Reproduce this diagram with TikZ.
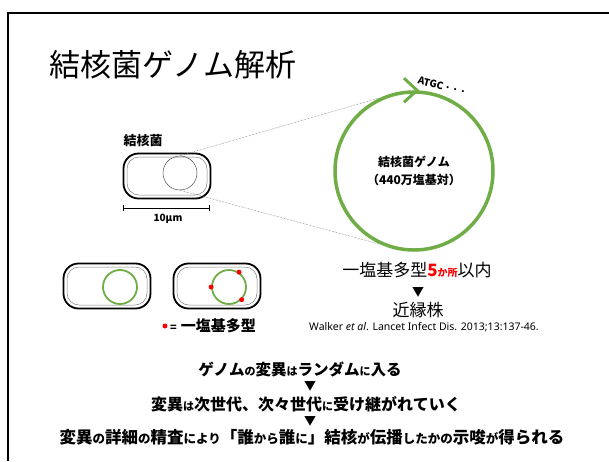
\documentclass[tikz,border=0pt]{standalone}
\usepackage{fontspec}
\setmainfont{Noto Sans CJK JP}
\newfontfamily\latinfont{Noto Sans}
\usetikzlibrary{positioning}

\definecolor{genomegreen}{RGB}{112,173,71}
\definecolor{snpred}{RGB}{255,0,0}

\tikzset{
  cellout/.style={draw, line width=1.8pt, rounded corners=15pt,
    minimum width=87pt, minimum height=45pt, inner sep=0pt},
  cellin/.style={draw=black!50, line width=0.5pt, rounded corners=12pt,
    minimum width=80pt, minimum height=38pt, inner sep=0pt},
  chromo/.style={circle, draw=genomegreen, line width=1.8pt,
    minimum size=34pt, inner sep=0pt},
  snp/.style={circle, fill=snpred, inner sep=0pt, minimum size=5pt},
  zoomline/.style={draw=black!60, densely dotted, line width=0.5pt},
  lead/.style={font=\bfseries\fontsize{16}{18}\selectfont, inner sep=0pt},
  tri/.style={font=\fontsize{12}{12}\selectfont, inner sep=0pt},
}
\newcommand\kana[1]{{\fontsize{11}{12}\selectfont #1}}
\newcommand\kanab[1]{{\fontsize{12.5}{13}\selectfont #1}}

\begin{document}
\begin{tikzpicture}[x=1pt, y=-1pt]
  \useasboundingbox (0,0) rectangle (609,461);
  % slide frame
  \draw[line width=1.3pt] (8,461) -- (8,13) -- (609,13);

  \node[anchor=west, inner sep=0pt, font=\fontsize{31}{31}\selectfont] (title) at (49,65) {結核菌ゲノム解析};

  % bacterium with its chromosome
  \node[cellout] (cell) at (167,176) {};
  \node[cellin] (cellinner) at (cell) {};
  \node[circle, draw=black!70, line width=0.5pt, minimum size=34pt, inner sep=0pt] (nucleoid) at (180,173) {};
  \node[font=\bfseries\fontsize{13}{13}\selectfont, inner sep=0pt] (celllabel) at (143,141) {結核菌};

  % scale bar
  \coordinate (barL) at (123,208);
  \coordinate (barR) at (210,208);
  \draw[line width=0.6pt, |-|] (barL) -- (barR);
  \node[font=\bfseries\fontsize{10}{10}\selectfont, inner sep=0pt] (barlabel) at (168,219) {10μm};

  % genome circle
  \node[circle, draw=genomegreen, line width=3.5pt, minimum size=158pt, inner sep=0pt,
    align=center, font=\bfseries\fontsize{12}{18}\selectfont] (genome) at (414,171)
    {結核菌ゲノム\\（440万塩基対）};
  \draw[genomegreen, line width=3pt, line join=miter]
    ([shift={(-10,-12)}]genome.north) -- ([shift={(3,0)}]genome.north)
    -- ([shift={(-10,12)}]genome.north);
  \node[font=\bfseries\fontsize{10}{10}\selectfont, rotate=-14, inner sep=0pt] (seq) at (442,86)
    {ATGC\,·\,·\,·};

  \draw[zoomline] (nucleoid.north) -- (genome.115);
  \draw[zoomline] (nucleoid.south) -- (genome.245);

  % cells before and after mutation
  \node[cellout] (cellA) at (107,286) {};
  \node[cellin] (cellAinner) at (cellA) {};
  \node[chromo] (chromoA) at (120,287) {};
  \node[cellout] (cellB) at (217,286) {};
  \node[cellin] (cellBinner) at (cellB) {};
  \node[chromo] (chromoB) at (229,287) {};
  \node[snp] (snp1) at (chromoB.56) {};
  \node[snp] (snp2) at (chromoB.180) {};
  \node[snp] (snp3) at (chromoB.-45) {};

  \node[snp] (snpkey) at (165,326) {};
  \node[anchor=west, inner sep=0pt, font=\bfseries\fontsize{15}{15}\selectfont] (snplabel)
    at (170,326) {{\fontsize{11}{11}\selectfont =}\hspace{4pt}一塩基多型};

  % related strains
  \node[inner sep=0pt, font=\fontsize{17}{17}\selectfont] (snpcount) at (417,270)
    {一塩基多型{\color{snpred}\bfseries 5{\fontsize{10}{10}\selectfont か所}}以内};
  \node[tri] (down0) at (418,292) {▼};
  \node[inner sep=0pt, font=\fontsize{17}{17}\selectfont] (related) at (418,310) {近縁株};
  \node[inner sep=0pt, font=\latinfont\fontsize{10.5}{11}\selectfont] (ref) at (424,327)
    {Walker \textit{et al}. Lancet Infect Dis. 2013;13:137-46.};

  % conclusions
  \node[lead, font=\bfseries\fontsize{15.5}{18}\selectfont] (step1) at (300,369) {ゲノム\kana{の}変異\kana{は}ランダム\kana{に}入る};
  \node[tri] (down1) at (310,386) {▼};
  \node[lead] (step2) at (306,404) {変異\kana{は}次世代、次々世代\kana{に}受け継がれていく};
  \node[tri] (down2) at (310,421) {▼};
  \node[lead, font=\bfseries\fontsize{16.5}{18}\selectfont] (step3) at (312,437)
    {変異\kanab{の}詳細\kanab{の}精査\kanab{により}「誰\kanab{から}誰\kanab{に}」結核\kanab{が}伝播\kanab{したかの}示唆\kanab{が}得られる};
\end{tikzpicture}
\end{document}
